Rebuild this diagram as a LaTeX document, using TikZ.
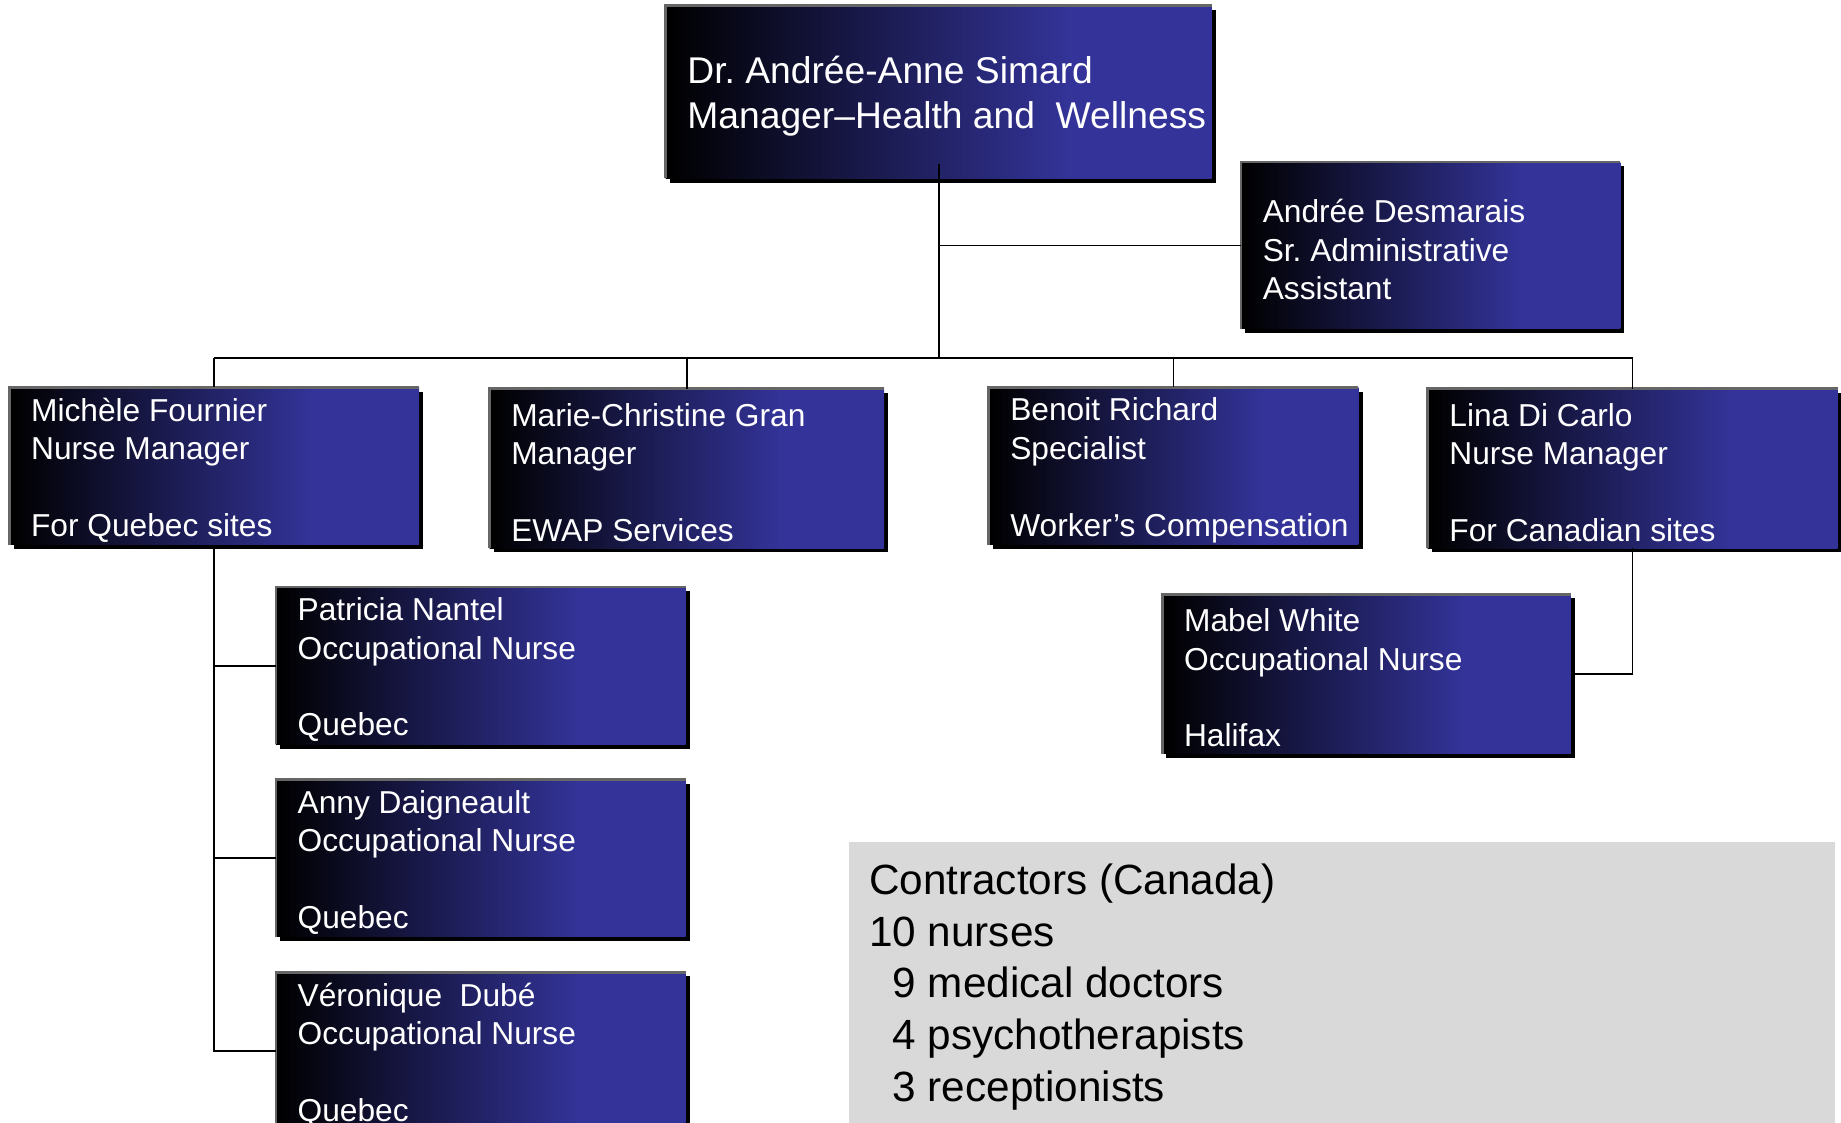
\documentclass[tikz,border=0pt]{standalone}
\usepackage{fontspec}
\setmainfont{Liberation Sans}
\frenchspacing
\definecolor{boxblue}{RGB}{51,51,153}
\definecolor{edgegray}{RGB}{102,102,102}
\definecolor{panelgray}{RGB}{217,217,217}
\pgfdeclarehorizontalshading{boxshade}{100bp}{color(0bp)=(black); color(25bp)=(black); color(62bp)=(boxblue); color(100bp)=(boxblue)}
\tikzset{
  boxshape/.style={rectangle, inner sep=0pt, outer sep=0pt, shading=boxshade},
  boxtext/.style={inner sep=0pt, outer sep=0pt, align=left, text=white, font=\frenchspacing\fontsize{27}{32.7}\selectfont},
  toptext/.style={inner sep=0pt, outer sep=0pt, align=left, text=white, font=\frenchspacing\fontsize{31.7}{38}\selectfont},
  grayedge/.style={draw=edgegray, line width=2.4pt},
  conn/.style={draw=black, line width=1.4pt},
}
\newcommand\orgbox[7]{%
  \fill[black] (#2+3.5,#3+3.5) rectangle ++(#4,#5);
  \node[boxshape, minimum width=#4pt, minimum height=#5pt, anchor=north west] (#1) at (#2,#3) {};
  \draw[grayedge] (#1.south west) -- (#1.north west) -- (#1.north east);
  \node[#6, anchor=west] (#1-t) at ([xshift=18.5pt,yshift=-3.5pt]#1.west) {#7};
}
\begin{document}
\begin{tikzpicture}[x=1pt,y=-1pt]
\useasboundingbox (0,0) rectangle (1568,956);
\clip (0,0) rectangle (1568,956);
\orgbox{topbox}{567}{5}{465}{147}{toptext}{Dr. Andrée-Anne Simard\\Manager–Health and\ \ Wellness}
\orgbox{desm}{1057}{138}{323}{142}{boxtext}{Andrée Desmarais\\Sr. Administrative\\Assistant}
\orgbox{mich}{8}{330}{349}{134}{boxtext}{Michèle Fournier\\Nurse Manager\\\mbox{}\\For Quebec sites}
\orgbox{marie}{417}{331}{336}{136}{boxtext}{Marie-Christine Gran\\Manager\\\mbox{}\\EWAP Services}
\orgbox{benoit}{842}{330}{315}{134}{boxtext}{Benoit Richard\\Specialist\\\mbox{}\\Worker’s Compensation}
\orgbox{lina}{1216}{331}{349}{136}{boxtext}{Lina Di Carlo\\Nurse Manager\\\mbox{}\\For Canadian sites}
\orgbox{pat}{235}{500}{349}{134}{boxtext}{Patricia Nantel\\Occupational Nurse\\\mbox{}\\Quebec}
\orgbox{anny}{235}{664}{349}{134}{boxtext}{Anny Daigneault\\Occupational Nurse\\\mbox{}\\Quebec}
\orgbox{vero}{235}{828}{349}{134}{boxtext}{Véronique\ \ Dubé\\Occupational Nurse\\\mbox{}\\Quebec}
\orgbox{mabel}{990}{506}{348}{136}{boxtext}{Mabel White\\Occupational Nurse\\\mbox{}\\Halifax}
% contractors panel
\node[fill=panelgray, inner sep=0pt, outer sep=0pt, minimum width=840pt, minimum height=260pt, anchor=north west] (contr) at (723,717) {};
\node[inner sep=0pt, align=left, anchor=west, font=\fontsize{36}{44}\selectfont] (contr-t) at (740,840.5) {Contractors (Canada)\\10 nurses\\\phantom{1}9 medical doctors\\\phantom{1}4 psychotherapists\\\phantom{1}3 receptionists};
% connectors
\coordinate (busy) at (0,305);
\draw[conn] ([yshift=12pt]topbox.south) -- (topbox.south |- busy);
\draw[conn] (topbox.south |- desm.west) -- (desm.west);
\draw[conn] (mich.north |- busy) -- (lina.north |- busy);
\draw[conn] (mich.north |- busy) -- (mich.north);
\draw[conn] (marie.north |- busy) -- (marie.north);
\draw[conn] (benoit.north |- busy) -- (benoit.north);
\draw[conn] (lina.north |- busy) -- (lina.north);
\draw[conn] (mich.south) -- (mich.south |- vero.west) -- (vero.west);
\draw[conn] (mich.south |- pat.west) -- (pat.west);
\draw[conn] (mich.south |- anny.west) -- (anny.west);
\draw[conn] (lina.south) -- (lina.south |- mabel.east) -- (mabel.east);
\end{tikzpicture}
\end{document}
